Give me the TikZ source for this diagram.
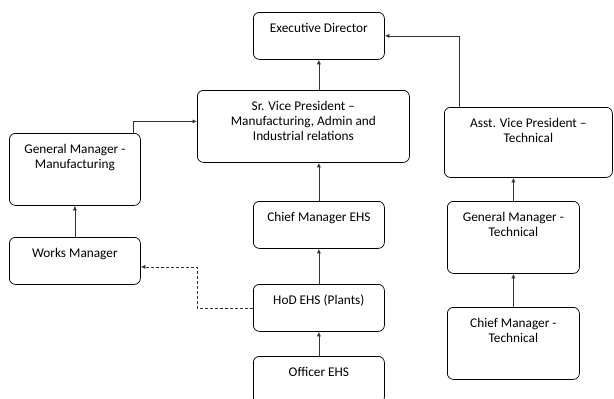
\documentclass[tikz,border=0pt]{standalone}
\usepackage{fontspec}
\setmainfont{Carlito}
\usetikzlibrary{arrows.meta}

\tikzset{
  box/.style={draw, line width=0.75pt, rounded corners=6pt, anchor=north west, inner sep=0pt},
  lbl/.style={anchor=north, align=center, inner sep=0pt, font=\fontsize{13.3}{15}\selectfont},
  link/.style={line width=0.75pt, draw=black!80, -{Latex[length=4.5pt,width=4pt]}}
}

\begin{document}
\begin{tikzpicture}[x=1pt,y=-1pt]
            \clip (0,0) rectangle (614,399);
            \useasboundingbox (0,0) rectangle (614,399);

            % Drawing box Executive Director
            \node [box, minimum width=131pt, minimum height=47pt] (ed) at (253,12) {};%
            \node [lbl] (edtext) at ([yshift=-9.5pt]ed.north) {\strut Executive Director};%

            % Drawing box Sr. Vice President
            \node [box, minimum width=212pt, minimum height=72pt] (srvp) at (197,90) {};%
            \node [lbl] (srvptext) at ([yshift=-10pt]srvp.north) {\strut Sr. Vice President –\\Manufacturing, Admin and\\Industrial relations};%

            % Drawing box General Manager - Manufacturing
            \node [box, minimum width=131pt, minimum height=72pt] (gmm) at (9,133) {};%
            \node [lbl] (gmmtext) at ([yshift=-9.5pt]gmm.north) {\strut General Manager -\\Manufacturing};%

            % Drawing box Works Manager
            \node [box, minimum width=131pt, minimum height=47pt] (wm) at (9,237) {};%
            \node [lbl] (wmtext) at ([yshift=-9.5pt]wm.north) {\strut Works Manager};%

            % Drawing box Chief Manager EHS
            \node [box, minimum width=131pt, minimum height=47pt] (cme) at (253,201) {};%
            \node [lbl] (cmetext) at ([yshift=-9.5pt]cme.north) {\strut Chief Manager EHS};%

            % Drawing box HoD EHS
            \node [box, minimum width=131pt, minimum height=47pt] (hod) at (253,284) {};%
            \node [lbl] (hodtext) at ([yshift=-9.5pt]hod.north) {\strut HoD EHS (Plants)};%

            % Drawing box Officer EHS
            \node [box, minimum width=131pt, minimum height=47pt] (off) at (253,356) {};%
            \node [lbl] (offtext) at ([yshift=-9.5pt]off.north) {\strut Officer EHS};%

            % Drawing box Asst. Vice President
            \node [box, minimum width=168pt, minimum height=70pt] (avp) at (444,107) {};%
            \node [lbl] (avptext) at ([yshift=-9.5pt]avp.north) {\strut Asst. Vice President –\\Technical};%

            % Drawing box General Manager - Technical
            \node [box, minimum width=132pt, minimum height=72pt] (gmt) at (447,201) {};%
            \node [lbl] (gmttext) at ([yshift=-9.5pt]gmt.north) {\strut General Manager -\\Technical};%

            % Drawing box Chief Manager - Technical
            \node [box, minimum width=132pt, minimum height=72pt] (cmt) at (447,307) {};%
            \node [lbl] (cmttext) at ([yshift=-9.5pt]cmt.north) {\strut Chief Manager -\\Technical};%

            % Drawing links of middle column
            \draw [link] (srvp.north -| ed.south) -- (ed.south);%
            \draw [link] (cme.north) -- (cme.north |- srvp.south);%
            \draw [link] (hod.north) -- (cme.south);%
            \draw [link] (off.north) -- (hod.south);%

            % Drawing links of left column
            \draw [link] (wm.north) -- (gmm.south);%
            \draw [link] ([xshift=-7pt]gmm.north east) |- ([yshift=5pt]srvp.west);%
            \draw [link, dashed, dash pattern=on 3pt off 2pt] (hod.west) -- ++(-56,0) |- ([yshift=-6pt]wm.east);%

            % Drawing links of right column
            \draw [link] (cmt.north) -- (gmt.south);%
            \draw [link] (gmt.north) -- (gmt.north |- avp.south);%
            \draw [link] ([xshift=15pt]avp.north west) |- (ed.east);%
\end{tikzpicture}
\end{document}
